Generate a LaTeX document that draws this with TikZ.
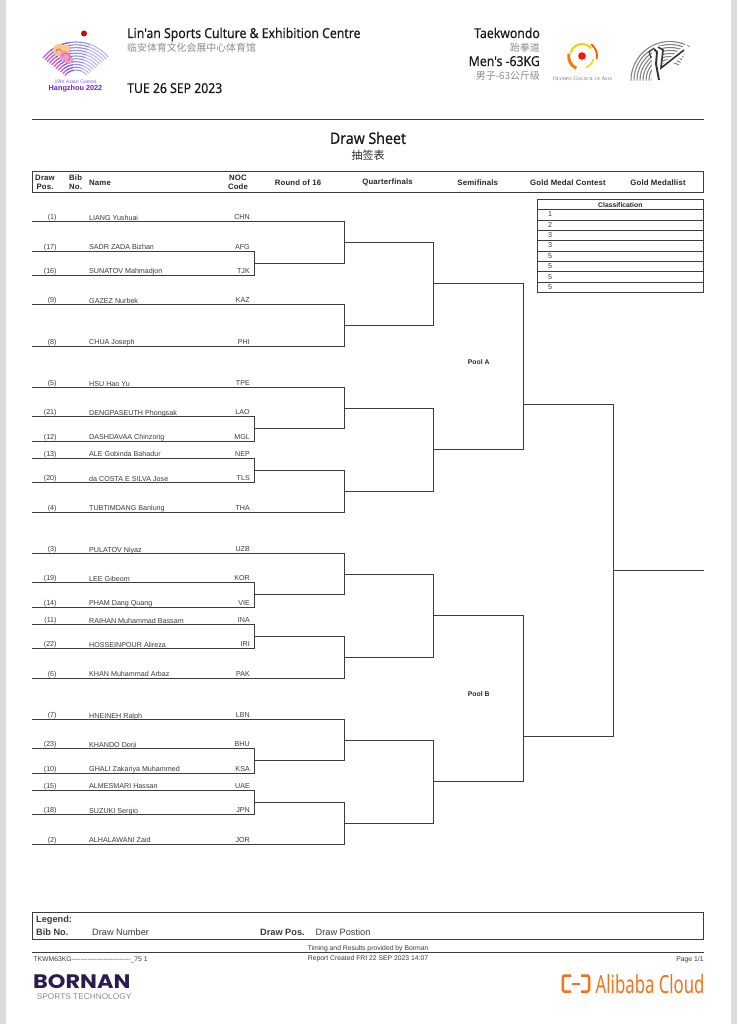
\documentclass[tikz,border=0pt]{standalone}
\usepackage{fontspec}
\setmainfont{Liberation Sans}
\newfontfamily\lsplain{Liberation Sans}
\newfontfamily\hdfont[FakeStretch=.9,FakeBold=.25]{Noto Sans}
\newfontfamily\alifont[FakeStretch=.67]{Noto Sans}
\newfontfamily\cjk{Noto Sans CJK SC}
\newfontfamily\serifsc{Liberation Serif}
\newfontfamily\bornanfont[FakeStretch=1.15]{Poppins}
\usetikzlibrary{calc}
\definecolor{ink}{HTML}{3C3C3C}
\definecolor{txt}{HTML}{3A3A3A}
\definecolor{soft}{HTML}{8C8C8C}
\definecolor{band}{HTML}{DCDCDC}
\definecolor{purp}{HTML}{2E1A4F}
\definecolor{ali}{HTML}{F5711C}
\definecolor{fanA}{HTML}{D94FCF}
\definecolor{fanB}{HTML}{7F55E0}
\definecolor{fanC}{HTML}{8F90F0}
\definecolor{fanD}{HTML}{BDB9F2}
\definecolor{peach}{HTML}{F9C97C}
\definecolor{rose}{HTML}{F29AC0}
\newcommand\fs[1]{\fontsize{#1}{#1}\selectfont}
\tikzset{
  brk/.style={draw=ink,line width=.85pt},
  frame/.style={draw=ink,line width=.85pt},
  lbl/.style={inner sep=0pt,text=txt,font=\fs{7.15}},
  hdr/.style={inner sep=0pt,text=black!85,font=\addfontfeature{LetterSpace=2}\fs{7.8}\bfseries,align=center},
  sub/.style={inner sep=0pt,text=black!85,font=\fs{6.8}\bfseries},
  head/.style={inner sep=0pt,text=black!90,font=\hdfont\fs{13.6}},
  chn/.style={inner sep=0pt,text=soft,font=\cjk\fs{9.9}},
  lgd/.style={inner sep=0pt,anchor=base west,text=txt,font=\fs{9.2}},
  lgdb/.style={inner sep=0pt,anchor=base west,text=txt,font=\fs{9.2}\bfseries},
  foot/.style={inner sep=0pt,text=txt,font=\lsplain\fs{6.8}},
}
% bracket: top, bottom, x of the vertical, name of outgoing point; optional fraction
\newcommand\bracket[5][.5]{%
  \coordinate (v#5) at (#4,0);
  \draw[brk] (#2) -- (#2 -| v#5) -- (#3 -| v#5) -- (#3);
  \coordinate (#5) at ($(#2 -| v#5)!#1!(#3 -| v#5)$);
}
\begin{document}
\begin{tikzpicture}[x=1pt,y=-1pt]
\useasboundingbox (0,0) rectangle (737,1024);
\fill[white] (0,0) rectangle (737,1024);
\fill[band] (0,0) rectangle (5.5,1024);
\fill[band] (731,0) rectangle (737,1024);

% Header texts
\node[head,anchor=base west] (venue) at (127,38) {Lin'an Sports Culture \& Exhibition Centre};
\node[chn,anchor=base west] (venuecn) at (127,51.5) {临安体育文化会展中心体育馆};
\node[head,anchor=base west] (date) at (127,93) {TUE 26 SEP 2023};
\node[head,anchor=base east] (sport) at (540,38) {Taekwondo};
\node[chn,anchor=base east] (sportcn) at (540,52) {跆拳道};
\node[head,anchor=base east] (event) at (540,66) {Men's -63KG};
\node[chn,anchor=base east] (eventcn) at (540,80) {男子-63公斤级};

% Asian Games logo
\fill[red!85!black] (84,33.5) circle (3);
\foreach \r in {14,16.8,19.6,22.4,25.2,28,30.8,33.6,36.4,39.2,42}{
  \draw[line width=1.25pt,draw=fanB] ($(76,84)+(128:\r pt)$) arc[start angle=128,end angle=98,radius=\r pt];
  \draw[line width=1.25pt,draw=fanA] ($(76,84)+(142:\r pt)$) arc[start angle=142,end angle=128,radius=\r pt];
  \draw[line width=1.15pt,draw=fanC] ($(76,84)+(98:\r pt)$) arc[start angle=98,end angle=70,radius=\r pt];
  \draw[line width=1.15pt,draw=fanD] ($(76,84)+(70:\r pt)$) arc[start angle=70,end angle=40,radius=\r pt];
}
\fill[peach] (59,50) circle (6);
\fill[peach] (66,49) circle (4.5);
\fill[rose] (65,56) circle (5.5);
\fill[rose] (69,60) circle (4);
\draw[fanA,line width=.8pt] (56,52) arc[start angle=180,end angle=20,radius=3pt];
\draw[fanA,line width=.8pt] (62,57) arc[start angle=180,end angle=-60,radius=4pt];
\node[inner sep=0pt,text=violet!50!blue!60,font=\fs{5.1}] (agyear) at (75.5,82) {19th Asian Games};
\node[inner sep=0pt,text=violet!60!blue!85,font=\fs{7.3}\bfseries] (agcity) at (75.5,89) {Hangzhou 2022};

% OCA logo
\fill[red!85!orange] (582,56) circle (3.8);
\draw[yellow!70!orange,line width=2.2pt] ($(582,56)+(165:12pt)$) arc[start angle=165,end angle=40,radius=12pt];
\draw[orange!90!red,line width=2.8pt] ($(582,56)+(170:13.5pt)$) arc[start angle=170,end angle=245,radius=13.5pt];
\draw[orange!70!red,line width=1.8pt] ($(582,56)+(52:15pt)$) arc[start angle=52,end angle=-12,radius=15pt];
\draw[yellow!70!orange,line width=1.5pt] ($(582,56)+(345:12pt)$) arc[start angle=345,end angle=290,radius=12pt];
\node[inner sep=0pt,text=black!55,font=\serifsc\fs{5.5}] (oca) at (582.5,78.5) {O\fs{4.3}LYMPIC \fs{5.5}C\fs{4.3}OUNCIL OF \fs{5.5}A\fs{4.3}SIA};

% Taekwondo pictogram
\foreach \r in {18,21,24,27,30,33,36,39}{
  \draw[black!50,line width=1.05pt] ($(670,80.5)+(180:\r pt)$) arc[start angle=180,end angle=60,radius=\r pt];
}
\fill[white] (652,46) -- (662,46) -- (663,64) -- (686,44) -- (690,50) -- (665,70) -- (664,81) -- (652,81) -- cycle;
\draw[black!80,line width=1.9pt] (654,49) -- (657,52) -- (656,64) -- (659,80);
\draw[black!80,line width=1.6pt] (658,47) -- (663,50) -- (661,68) -- (684,50);
\draw[black!80,line width=1.1pt] (654,48) -- (649,52) -- (651,58);

% Rule and titles
\coordinate (ruleL) at (32,119.5);
\coordinate (ruleR) at (703.5,119.5);
\draw[draw=ink,line width=.8pt] (ruleL) -- (ruleR);
\node[inner sep=0pt,text=black!90,font=\hdfont\fs{15.7}] (title) at (368,138) {Draw Sheet};
\node[inner sep=0pt,text=black!85,font=\cjk\fs{11}] (titlecn) at (368,155.5) {抽签表};

% Column header
\draw[frame] (32.5,171.5) rectangle (703.5,192.3);
\node[hdr] (hdraw) at (45,182.4) {Draw\\[1.5pt]Pos.};
\node[hdr,align=left,anchor=west] (hbib) at (69,182.4) {Bib\\[1.5pt]No.};
\node[hdr,anchor=west] (hname) at (89,182.4) {Name};
\node[hdr] (hnoc) at (238,182.4) {NOC\\[1.5pt]Code};
\node[hdr] (h16) at (298,182.4) {Round of 16};
\node[hdr] (hqf) at (387.5,182.4) {Quarterfinals};
\node[hdr] (hsf) at (477.7,182.4) {Semifinals};
\node[hdr] (hgc) at (568,182.4) {Gold Medal Contest};
\node[hdr] (hgm) at (658,182.4) {Gold Medallist};

% Classification
\draw[frame] (537,199.3) rectangle (703.7,292.8);
\foreach \y in {209.7,220,230.3,240.7,251,261.5,271.8,282.3}{
  \draw[frame] (537,\y) -- (703.7,\y);
}
\node[sub] (cltitle) at (620.3,204.8) {Classification};
\foreach \i/\y/\t in {1/214.3/1,2/224.8/2,3/235.2/3,4/245.4/3,5/255.8/5,6/266.3/5,7/276.6/5,8/287/5}{
  \node[lbl] (cl\i) at (550,\y) {\t};
}

% Entries
\foreach \i/\y/\p/\n/\c in {
 1/221.7/1/LIANG Yushuai/CHN,
 2/251/17/SADR ZADA Bizhan/AFG,
 3/275/16/SUNATOV Mahmadjon/TJK,
 4/304.5/9/GAZEZ Nurbek/KAZ,
 5/346/8/CHUA Joseph/PHI,
 6/387.5/5/HSU Hao Yu/TPE,
 7/416.7/21/DENGPASEUTH Phongsak/LAO,
 8/441/12/DASHDAVAA Chinzorig/MGL,
 9/458.3/13/ALE Gobinda Bahadur/NEP,
 10/482.7/20/da COSTA E SILVA Jose/TLS,
 11/512/4/TUBTIMDANG Banlung/THA,
 12/553.5/3/PULATOV Niyaz/UZB,
 13/582.7/19/LEE Gibeom/KOR,
 14/607/14/PHAM Dang Quang/VIE,
 15/624.5/11/RAIHAN Muhammad Bassam/INA,
 16/648.5/22/HOSSEINPOUR Alireza/IRI,
 17/678/6/KHAN Muhammad Arbaz/PAK,
 18/719.5/7/HNEINEH Ralph/LBN,
 19/748.7/23/KHANDO Dorji/BHU,
 20/773/10/GHALI Zakariya Muhammed/KSA,
 21/790.3/15/ALMESMARI Hassan/UAE,
 22/814.7/18/SUZUKI Sergio/JPN,
 23/844/2/ALHALAWANI Zaid/JOR}{
  \coordinate (L\i) at (32,\y);
  \node[lbl,anchor=base east] (pos\i) at (56.8,\y-2) {(\p)};
  \node[lbl,anchor=base west] (name\i) at (89,\y-1.5) {\n};
  \node[lbl,anchor=base east] (noc\i) at (250,\y-2) {\c};
}

% Bracket
\bracket{L2}{L3}{254}{m1}
\bracket{L1}{m1}{344}{q1}
\bracket{L4}{L5}{344}{q2}
\bracket{q1}{q2}{433.7}{s1}
\bracket{L7}{L8}{254}{m2}
\bracket{L9}{L10}{254}{m3}
\bracket{L6}{m2}{344}{q3}
\bracket{m3}{L11}{344}{q4}
\bracket{q3}{q4}{433.7}{s2}
\bracket[.728]{s1}{s2}{523.7}{f1}
\bracket{L13}{L14}{254}{m4}
\bracket{L15}{L16}{254}{m5}
\bracket{L12}{m4}{344}{q5}
\bracket{m5}{L17}{344}{q6}
\bracket{q5}{q6}{433.7}{s3}
\bracket{L19}{L20}{254}{m6}
\bracket{L21}{L22}{254}{m7}
\bracket{L18}{m6}{344}{q7}
\bracket{m7}{L23}{344}{q8}
\bracket{q7}{q8}{433.7}{s4}
\bracket[.7285]{s3}{s4}{523.7}{f2}
\bracket{f1}{f2}{613.7}{gold}
\coordinate (goldend) at (703.7,570.7);
\draw[brk] (gold) -- (gold -| goldend);
\node[sub] (poola) at (478.7,362.3) {Pool A};
\node[sub] (poolb) at (478.7,694) {Pool B};

% Legend
\draw[frame] (32.5,912) rectangle (703.5,939.3);
\node[lgdb] (leg) at (36,922.5) {Legend:};
\node[lgdb] (legbib) at (36,935.7) {Bib No.};
\node[lgd] (legbibv) at (92,935.7) {Draw Number};
\node[lgdb] (legpos) at (260,935.7) {Draw Pos.};
\node[lgd] (legposv) at (315.5,935.7) {Draw Postion};

% Footer
\node[foot] (timing) at (368,948.3) {Timing and Results provided by Borman};
\coordinate (footL) at (32,952.7);
\coordinate (footR) at (703.5,952.7);
\draw[draw=ink,line width=1pt] (footL) -- (footR);
\node[foot,anchor=base west] (code) at (33.3,961) {TKWM63KG--------------------------\_75 1};
\node[foot] (report) at (368,958.5) {Report Created FRI 22 SEP 2023 14:07};
\node[foot,anchor=base east] (page) at (703.8,961) {Page 1/1};

% Bornan
\node[inner sep=0pt,anchor=base west,text=purp,font=\bornanfont\bfseries\fs{19.5}] (bornan) at (33,988.6) {BORNAN};
\node[inner sep=0pt,anchor=base west,text=black!45,font=\fs{8.3}] (bornan2) at (36.7,999) {SPORTS TECHNOLOGY};

% Alibaba Cloud
\draw[ali,line width=2.5pt,line join=round] (571,975.5) -- (564,975.5) -- (562.8,977) -- (562.8,990) -- (564,991.5) -- (571,991.5);
\draw[ali,line width=2.5pt,line join=round] (581,975.5) -- (587.8,975.5) -- (589,977) -- (589,990) -- (587.8,991.5) -- (581,991.5);
\draw[ali,line width=2pt] (572,983.5) -- (580,983.5);
\node[inner sep=0pt,anchor=base west,text=ali,font=\alifont\fs{25}] (alibaba) at (595.5,993) {Alibaba Cloud};
\end{tikzpicture}
\end{document}
